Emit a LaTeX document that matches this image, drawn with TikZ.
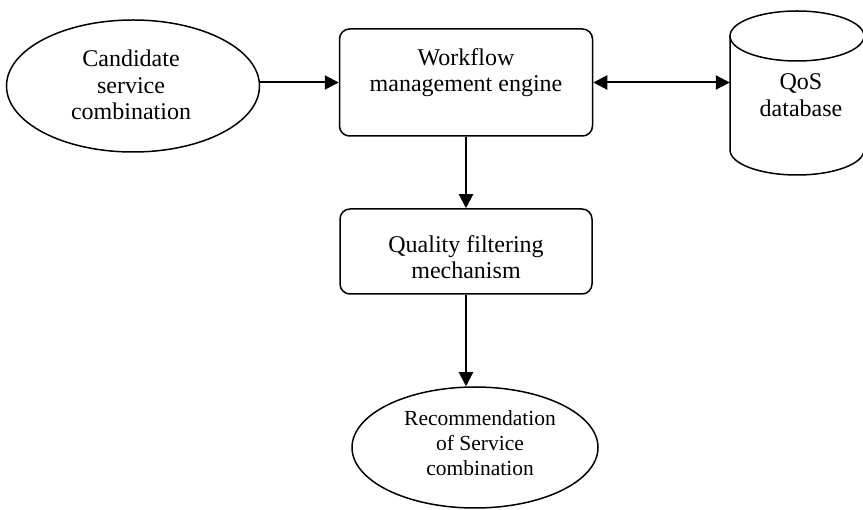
\documentclass[tikz,border=0pt]{standalone}
\usepackage{fontspec}
\setmainfont{Liberation Serif}
\usetikzlibrary{shapes.geometric,arrows.meta}
\begin{document}
\begin{tikzpicture}[x=1pt,y=-1pt,
  bord/.style={draw=black,line width=1.5pt},
  ell/.style={bord,ellipse,inner sep=0pt},
  rbox/.style={bord,rectangle,rounded corners=10pt,inner sep=0pt},
  txt/.style={align=center,font=\fontsize{24}{26.5}\selectfont,inner sep=0pt},
  arr/.style={line width=2pt,-{Triangle[length=14pt,width=14pt]}},
  darr/.style={line width=2pt,{Triangle[length=14pt,width=14pt]}-{Triangle[length=14pt,width=14pt]}}]
\useasboundingbox (0,0) rectangle (863,510);
% left ellipse
\node[ell,minimum width=253pt,minimum height=132pt] (cand) at (133,86) {};
\node[txt] (candt) at (131,85) {Candidate\\service\\combination};
% workflow box
\node[rbox,minimum width=253pt,minimum height=107pt] (wf) at (466,82.5) {};
\node[txt] (wft) at (466,72.5) {Workflow\\management engine};
% quality box
\node[rbox,minimum width=252pt,minimum height=85pt] (qf) at (466,251.5) {};
\node[txt] (qft) at (466,257) {Quality filtering\\mechanism};
% recommendation ellipse
\node[ell,minimum width=246pt,minimum height=121pt] (rec) at (475,447.5) {};
\node[txt,font=\fontsize{21.5}{25}\selectfont] (rect) at (480,443) {Recommendation\\of Service\\combination};
% QoS database cylinder
\draw[bord] (797,36) ellipse [x radius=67, y radius=25];
\draw[bord] (730,36) -- (730,150) arc[start angle=180, end angle=0, x radius=67, y radius=25] -- (864,36);
\node[minimum width=134pt,minimum height=164pt,inner sep=0pt] (qos) at (797,92) {};
\node[txt] (qost) at (801,95) {QoS\\database};
% connectors
\draw[arr] (cand.east |- wf.west) -- (wf.west);
\draw[darr] (wf.east) -- (wf.east -| qos.west);
\draw[arr] (wf.south) -- (qf.north);
\draw[arr] (qf.south) -- (qf.south |- rec.north);
\end{tikzpicture}
\end{document}
